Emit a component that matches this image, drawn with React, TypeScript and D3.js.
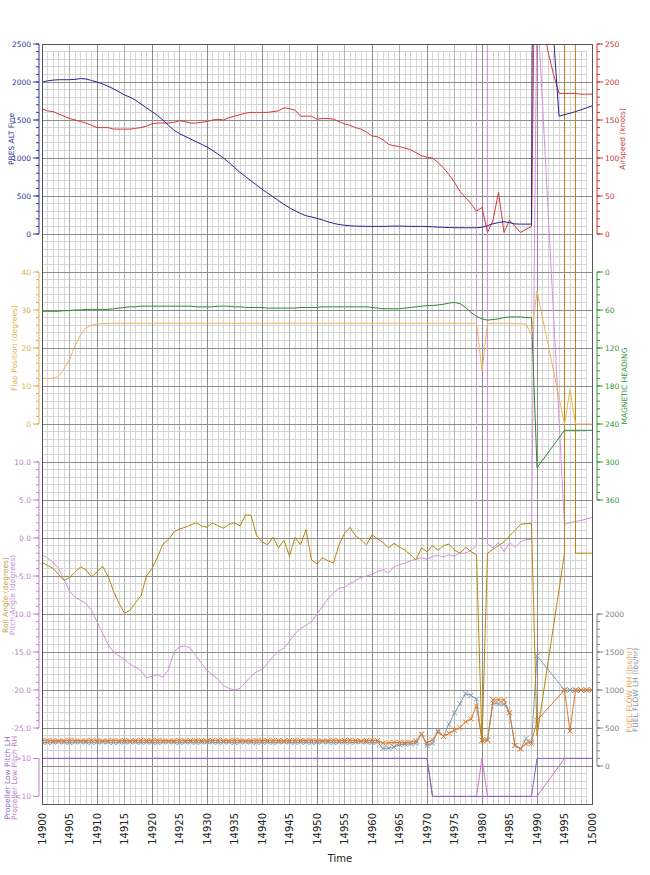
import React from "react";
import * as d3 from "d3";

// ---------- DATA ----------
const times: number[] = d3.range(14900, 15001);
const timeTicks: number[] = d3.range(14900, 15001, 5);

const altitude: (number | null)[] = [
  2000, 2015, 2025, 2030, 2030, 2030, 2035, 2045, 2040, 2020,
  2000, 1975, 1945, 1910, 1870, 1830, 1800, 1760, 1710, 1660,
  1610, 1560, 1500, 1430, 1365, 1320, 1285, 1250, 1215, 1180,
  1145, 1100, 1050, 1000, 940, 875, 810, 755, 700, 645,
  590, 540, 490, 440, 390, 345, 305, 270, 240, 225,
  205, 185, 160, 140, 125, 115, 108, 104, 102, 100,
  100, 100, 100, 102, 104, 104, 102, 100, 100, 100,
  98, 95, 90, 88, 85, 83, 82, 82, 82, 83,
  90, 110, 135, 150, 162, 150, 132, 130, 130, 130,
  20000, 20000, 20000, 2600, 1550, 1570, 1590, 1610, 1635, 1660,
  1685,
];

const airspeed: (number | null)[] = [
  165, 162, 161, 158, 155, 152, 150, 148, 146, 143,
  140, 140, 140, 138, 138, 138, 138, 139, 140, 142,
  145, 146, 146, 146, 147, 149, 148, 146, 146, 147,
  148, 150, 151, 150, 153, 155, 157, 159, 160, 160,
  160, 160, 161, 162, 166, 165, 163, 155, 155, 155,
  151, 152, 152, 151, 148, 145, 143, 140, 138, 134,
  129, 128, 124, 118, 116, 115, 113, 111, 107, 103,
  101, 100, 94, 87, 78, 68, 56, 48, 40, 30,
  35, 2, 18, 55, 2, 18, 10, 2, 6, 10,
  600, 280, 240, 210, 185, 185, 185, 185, 184, 184,
  184,
];

const flap: (number | null)[] = [
  12, 12, 12, 12.5, 14.5, 17, 20.5, 23.5, 25.3, 26,
  26.3, 26.4, 26.5, 26.5, 26.5, 26.5, 26.5, 26.5, 26.5, 26.5,
  26.5, 26.5, 26.5, 26.5, 26.5, 26.5, 26.5, 26.5, 26.5, 26.5,
  26.5, 26.5, 26.5, 26.5, 26.5, 26.5, 26.5, 26.5, 26.5, 26.5,
  26.5, 26.5, 26.5, 26.5, 26.5, 26.5, 26.5, 26.5, 26.5, 26.5,
  26.5, 26.5, 26.5, 26.5, 26.5, 26.5, 26.5, 26.5, 26.5, 26.5,
  26.5, 26.5, 26.5, 26.5, 26.5, 26.5, 26.5, 26.5, 26.5, 26.5,
  26.5, 26.5, 26.5, 26.5, 26.5, 26.5, 26.5, 26.5, 26.5, 26.5,
  14, 26.5, 26.5, 26.5, 26.5, 26.5, 26.4, 26.4, 26.3, 23.5,
  35, null, null, null, null, 0, 9, 0, 0, 0,
  0,
];

const heading: (number | null)[] = [
  62, 62, 62, 62, 61, 61, 60, 60, 59, 59,
  59, 59, 59, 58, 57, 56, 55, 55, 54, 54,
  54, 54, 54, 54, 54, 54, 54, 54, 55, 55,
  55, 55, 54, 54, 54, 55, 55, 56, 56, 56,
  56, 57, 57, 57, 57, 57, 57, 56, 56, 56,
  56, 55, 55, 55, 55, 55, 55, 55, 55, 55,
  56, 57, 58, 58, 58, 58, 57, 56, 55, 54,
  53, 53, 52, 51, 49, 48, 50, 56, 64, 70,
  74, 76, 75, 74, 72, 71, 71, 71, 72, 72,
  309, null, null, null, null, 250, 250, 250, 250, 250,
  250,
];

const roll: (number | null)[] = [
  -3.2, -3.6, -4, -4.8, -5.6, -5.2, -4.5, -3.8, -4.2, -5.1,
  -4.5, -3.7, -5, -7, -8.6, -9.9, -9.5, -8.5, -7.6, -5,
  -4, -2.5, -0.8, -0.2, 0.8, 1.2, 1.4, 1.7, 2, 1.6,
  1.4, 2, 1.6, 1.3, 1.8, 2, 1.6, 3, 3, 0.4,
  -0.5, -0.9, 0.1, -1.3, -0.3, -2.4, 0.1, -0.9, 1.1, -2.9,
  -3.4, -2.6, -3, -3.3, -0.9, 0.6, 1.4, 0.3, -0.2, -0.9,
  0.4, -0.1, -0.6, -1.3, -0.7, -1.2, -1.6, -2.2, -2.9, -1.3,
  -1.8, -1, -1.6, -1, -0.8, -1.6, -2, -1.2, -1.8, -2.2,
  -27, -2, -1.5, -1, -0.5, 0.3, 1, 1.8, 1.9, 1.9,
  -26, null, null, null, null, -2, 3000, -2, -2, -2,
  -2,
];

const pitch: (number | null)[] = [
  -2.2, -2.6, -3.2, -4, -5.5, -7, -7.8, -8.2, -8.6, -9.5,
  -11, -12.5, -14, -15, -15.5, -16, -16.6, -17, -17.5, -18.4,
  -18.2, -18, -18.3, -17.3, -15, -14.3, -14.2, -14.5, -15.5, -16.5,
  -17.4, -18, -18.6, -19.4, -19.8, -20, -19.8, -19, -18.2, -17.6,
  -17.3, -16.5, -15.6, -14.9, -14.5, -13.6, -12.6, -11.9, -11.5, -11,
  -10, -9, -8, -7.2, -6.6, -6.5, -6, -5.6, -5.2, -5,
  -4.8, -4.4, -4.2, -4.6, -3.8, -3.5, -3.3, -3, -2.8, -2.6,
  -2.8, -2.4, -2.3, -2.5, -2.2, -2.4, -2, -2, -1.6, -1,
  3000, -0.8, -1.3, -0.6, -1.8, -0.6, -1.2, -0.5, -0.2, -0.2,
  71, null, null, null, null, 1.8, 2, 2.2, 2.3, 2.5,
  2.7,
];

const propLH: (number | null)[] = [
  1, 1, 1, 1, 1, 1, 1, 1, 1, 1,
  1, 1, 1, 1, 1, 1, 1, 1, 1, 1,
  1, 1, 1, 1, 1, 1, 1, 1, 1, 1,
  1, 1, 1, 1, 1, 1, 1, 1, 1, 1,
  1, 1, 1, 1, 1, 1, 1, 1, 1, 1,
  1, 1, 1, 1, 1, 1, 1, 1, 1, 1,
  1, 1, 1, 1, 1, 1, 1, 1, 1, 1,
  1, 0, 0, 0, 0, 0, 0, 0, 0, 0,
  0, 0, 0, 0, 0, 0, 0, 0, 0, 0,
  1, 1, 1, 1, 1, 1, 1, 1, 1, 1,
  1,
];

const propRH: (number | null)[] = [
  1, 1, 1, 1, 1, 1, 1, 1, 1, 1,
  1, 1, 1, 1, 1, 1, 1, 1, 1, 1,
  1, 1, 1, 1, 1, 1, 1, 1, 1, 1,
  1, 1, 1, 1, 1, 1, 1, 1, 1, 1,
  1, 1, 1, 1, 1, 1, 1, 1, 1, 1,
  1, 1, 1, 1, 1, 1, 1, 1, 1, 1,
  1, 1, 1, 1, 1, 1, 1, 1, 1, 1,
  1, 0, 0, 0, 0, 0, 0, 0, 0, 0,
  1, 0, 0, 0, 0, 0, 0, 0, 0, 0,
  0, null, null, null, null, 1, 1, 1, 1, 1,
  1,
];

const fuelRH: (number | null)[] = [
  335, 340, 335, 330, 335, 340, 335, 330, 335, 340,
  335, 330, 335, 340, 335, 335, 330, 335, 340, 335,
  335, 340, 335, 330, 335, 340, 335, 335, 340, 335,
  330, 335, 340, 335, 335, 340, 335, 330, 335, 340,
  335, 335, 340, 335, 330, 335, 340, 335, 335, 340,
  335, 330, 335, 340, 335, 335, 340, 335, 330, 335,
  340, 335, 300, 305, 310, 310, 310, 315, 330, 420,
  300, 345, 445, 390, 430, 470, 505, 580, 620, 790,
  340, 340, 870, 870, 870, 700, 270, 225, 295, 318,
  600, null, null, null, null, 1000, 460, 1000, 1000, 1000,
  1000,
];

const fuelLH: (number | null)[] = [
  315, 310, 315, 320, 315, 310, 315, 320, 315, 310,
  315, 320, 315, 310, 315, 315, 320, 315, 310, 315,
  315, 310, 315, 320, 315, 310, 315, 315, 310, 315,
  320, 315, 310, 315, 315, 310, 315, 320, 315, 310,
  315, 315, 310, 315, 320, 315, 310, 315, 315, 310,
  315, 320, 315, 310, 315, 315, 310, 315, 320, 315,
  310, 315, 230, 235, 250, 280, 290, 290, 300, 420,
  267, 300, 465, 390, 550, 700, 820, 950, 930, 880,
  340, 340, 830, 815, 815, 700, 270, 225, 360, 295,
  1450, null, null, null, null, 1000, 1000, 1000, 1000, 1000,
  1000,
];

const altTicks = [0, 500, 1000, 1500, 2000, 2500];
const airTicks = [0, 50, 100, 150, 200, 250];
const flapTicks = [0, 10, 20, 30, 40];
const hdgTicks = [0, 60, 120, 180, 240, 300, 360];
const rollTicks = [-25, -20, -15, -10, -5, 0, 5, 10];
const propTicks = [0, 1];
const propTickLabels = ["<10", ">10"];
const fuelTicks = [0, 500, 1000, 1500, 2000];

// ---------- LAYOUT ----------
const W = 650;
const H = 875;
const P = { left: 42, right: 592, top: 44, bottom: 804 };
const FONT = "'DejaVu Sans', Verdana, sans-serif";

const C = {
  alt: "#24249a",
  air: "#d43a3a",
  flap: "#f0b458",
  hdg: "#2b8a2b",
  roll: "#b8860b",
  pitch: "#d88ee0",
  propLH: "#8060c0",
  propRH: "#d070c8",
  fuelRH: "#e07828",
  fuelLH: "#7f9cb0",
};

type Scale = d3.ScaleLinear<number, number>;

function pathFor(vals: (number | null)[], x: Scale, y: Scale): string {
  const pts = times
    .map((t, i) => [t, vals[i]] as [number, number | null])
    .filter((d) => d[1] !== null) as [number, number][];
  return (
    d3
      .line<[number, number]>()
      .x((d) => x(d[0]))
      .y((d) => y(d[1]))(pts) || ""
  );
}

function Axis(props: {
  scale: Scale;
  ticks: number[];
  minorStep: number;
  side: "left" | "right";
  color: string;
  labelColor: string;
  fmt: (v: number, i: number) => string;
}) {
  const { scale, ticks, minorStep, side, color, labelColor, fmt } = props;
  const ax = side === "left" ? 39 : 597;
  const dir = side === "left" ? -1 : 1;
  const d = scale.domain();
  const lo = Math.min(d[0], d[1]);
  const hi = Math.max(d[0], d[1]);
  const minors = minorStep > 0 ? d3.range(lo, hi + minorStep / 2, minorStep) : [];
  return (
    <g>
      <line x1={ax} x2={ax} y1={scale(lo)} y2={scale(hi)} stroke={color} strokeWidth={1} />
      {minors.map((v, i) => (
        <line key={"m" + i} x1={ax} x2={ax + dir * 3} y1={scale(v)} y2={scale(v)} stroke={color} strokeWidth={1} />
      ))}
      {ticks.map((v, i) => (
        <g key={"t" + i}>
          <line x1={ax} x2={ax + dir * 6} y1={scale(v)} y2={scale(v)} stroke={color} strokeWidth={1} />
          <text
            x={ax + dir * 8}
            y={scale(v)}
            textAnchor={side === "left" ? "end" : "start"}
            dominantBaseline="central"
            fontSize={7.5}
            fontFamily={FONT}
            fill={labelColor}
          >
            {fmt(v, i)}
          </text>
        </g>
      ))}
    </g>
  );
}

function VTitle(props: { x: number; y: number; color: string; text: string }) {
  return (
    <text
      transform={`translate(${props.x},${props.y}) rotate(-90)`}
      textAnchor="middle"
      dominantBaseline="central"
      fontSize={7.5}
      fontFamily={FONT}
      fill={props.color}
    >
      {props.text}
    </text>
  );
}

export default function App() {
  const x = d3.scaleLinear().domain([14900, 15000]).range([P.left, P.right]);
  const yGrid = d3.scaleLinear().domain([0, 100]).range([P.top, P.bottom]);
  const yAlt = d3.scaleLinear().domain([0, 2500]).range([234, 44]);
  const yAir = d3.scaleLinear().domain([0, 250]).range([234, 44]);
  const yFlap = d3.scaleLinear().domain([0, 40]).range([424, 272]);
  const yHdg = d3.scaleLinear().domain([0, 360]).range([272, 500]);
  const yRoll = d3.scaleLinear().domain([-25, 10]).range([728, 462]);
  const yProp = d3.scaleLinear().domain([0, 1]).range([796.4, 758.4]);
  const yFuel = d3.scaleLinear().domain([0, 2000]).range([766, 614]);

  const gridRows = d3.range(0, 101);
  const minorTopY = yGrid(1);
  const minorRightX = x(14999);

  const fuelMarks = (vals: (number | null)[], color: string) =>
    times.map((t, i) => {
      const v = vals[i];
      if (v === null) return null;
      const cx = x(t);
      const cy = yFuel(v);
      const s = 2.5;
      return (
        <path
          key={i}
          d={`M${cx - s},${cy - s}L${cx + s},${cy + s}M${cx - s},${cy + s}L${cx + s},${cy - s}`}
          stroke={color}
          strokeWidth={1}
          fill="none"
        />
      );
    });

  return (
    <svg
      width={W}
      height={H}
      style={{ position: "absolute", left: 0, top: 0, background: "#fff" }}
      xmlns="http://www.w3.org/2000/svg"
    >
      <defs>
        <clipPath id="plotClip">
          <rect x={P.left} y={P.top} width={P.right - P.left} height={P.bottom - P.top} />
        </clipPath>
      </defs>
      <rect x={0} y={0} width={W} height={H} fill="#fff" />

      {/* grid */}
      <g shapeRendering="crispEdges">
        {gridRows
          .filter((r) => r % 5 !== 0)
          .map((r) => (
            <line key={"hm" + r} x1={P.left} x2={minorRightX} y1={yGrid(r)} y2={yGrid(r)} stroke="#d6d6d6" />
          ))}
        {times
          .filter((t) => t % 5 !== 0)
          .map((t) => (
            <line key={"vm" + t} x1={x(t)} x2={x(t)} y1={minorTopY} y2={P.bottom} stroke="#d6d6d6" />
          ))}
        {times
          .filter((t) => t % 5 === 0 && t % 10 !== 0)
          .map((t) => (
            <line key={"v5" + t} x1={x(t)} x2={x(t)} y1={P.top} y2={P.bottom} stroke="#b4b4b4" />
          ))}
        {times
          .filter((t) => t % 10 === 0)
          .map((t) => (
            <line key={"v10" + t} x1={x(t)} x2={x(t)} y1={P.top} y2={P.bottom} stroke="#8c8c8c" />
          ))}
        {gridRows
          .filter((r) => r % 5 === 0)
          .map((r) => (
            <line key={"hM" + r} x1={P.left} x2={P.right} y1={yGrid(r)} y2={yGrid(r)} stroke="#8c8c8c" />
          ))}
      </g>

      {/* series */}
      <g clipPath="url(#plotClip)" fill="none" strokeWidth={1} strokeLinejoin="round">
        <path d={pathFor(propRH, x, yProp)} stroke={C.propRH} />
        <path d={pathFor(propLH, x, yProp)} stroke={C.propLH} />
        <path d={pathFor(fuelLH, x, yFuel)} stroke={C.fuelLH} />
        {fuelMarks(fuelLH, C.fuelLH)}
        <path d={pathFor(fuelRH, x, yFuel)} stroke={C.fuelRH} />
        {fuelMarks(fuelRH, C.fuelRH)}
        <path d={pathFor(pitch, x, yRoll)} stroke={C.pitch} />
        <path d={pathFor(roll, x, yRoll)} stroke={C.roll} />
        <path d={pathFor(heading, x, yHdg)} stroke={C.hdg} />
        <path d={pathFor(flap, x, yFlap)} stroke={C.flap} />
        <path d={pathFor(airspeed, x, yAir)} stroke={C.air} />
        <path d={pathFor(altitude, x, yAlt)} stroke={C.alt} />
      </g>

      {/* frame */}
      <rect
        x={P.left}
        y={P.top}
        width={P.right - P.left}
        height={P.bottom - P.top}
        fill="none"
        stroke="#555"
        shapeRendering="crispEdges"
      />

      {/* axes */}
      <Axis scale={yAlt} ticks={altTicks} minorStep={100} side="left" color="#333399" labelColor="#333399" fmt={(v) => String(v)} />
      <Axis scale={yAir} ticks={airTicks} minorStep={10} side="right" color="#cc3333" labelColor="#cc3333" fmt={(v) => String(v)} />
      <Axis scale={yFlap} ticks={flapTicks} minorStep={2} side="left" color="#e0b050" labelColor="#e0b050" fmt={(v) => String(v)} />
      <Axis scale={yHdg} ticks={hdgTicks} minorStep={12} side="right" color="#339933" labelColor="#339933" fmt={(v) => String(v)} />
      <Axis scale={yRoll} ticks={rollTicks} minorStep={1} side="left" color="#c080c8" labelColor="#c080c8" fmt={(v) => v.toFixed(1)} />
      <Axis scale={yProp} ticks={propTicks} minorStep={0} side="left" color="#c080c8" labelColor="#c080c8" fmt={(v, i) => propTickLabels[i]} />
      <Axis scale={yFuel} ticks={fuelTicks} minorStep={100} side="right" color="#808080" labelColor="#808080" fmt={(v) => String(v)} />

      {/* axis titles */}
      <VTitle x={11} y={139} color="#333399" text="PRES ALT Fine" />
      <VTitle x={622} y={139} color="#cc3333" text="Airspeed (knots)" />
      <VTitle x={14.5} y={348} color="#e0b050" text="Flap Position (degrees)" />
      <VTitle x={624} y={386} color="#339933" text="MAGNETIC HEADING" />
      <VTitle x={5} y={595} color="#c8a040" text="Roll Angle (degrees)" />
      <VTitle x={12.5} y={595} color="#c090d8" text="Pitch Angle (degrees)" />
      <VTitle x={7.5} y={778} color="#8a6ad0" text="Propeller Low Pitch LH" />
      <VTitle x={14} y={778} color="#c878c8" text="Propeller Low Pitch RH" />
      <VTitle x={629.5} y={690} color="#e8a050" text="FUEL FLOW RH (lbs/hr)" />
      <VTitle x={635.5} y={690} color="#8090a0" text="FUEL FLOW LH (lbs/hr)" />

      {/* x axis labels */}
      {timeTicks.map((t) => (
        <text
          key={"xl" + t}
          transform={`translate(${x(t)},${813}) rotate(-90)`}
          textAnchor="end"
          dominantBaseline="central"
          fontSize={10}
          fontFamily={FONT}
          fill="#222"
        >
          {t}
        </text>
      ))}
      <text x={(P.left + P.right) / 2 + 23} y={862} textAnchor="middle" fontSize={10} fontFamily={FONT} fill="#222">
        Time
      </text>
    </svg>
  );
}
